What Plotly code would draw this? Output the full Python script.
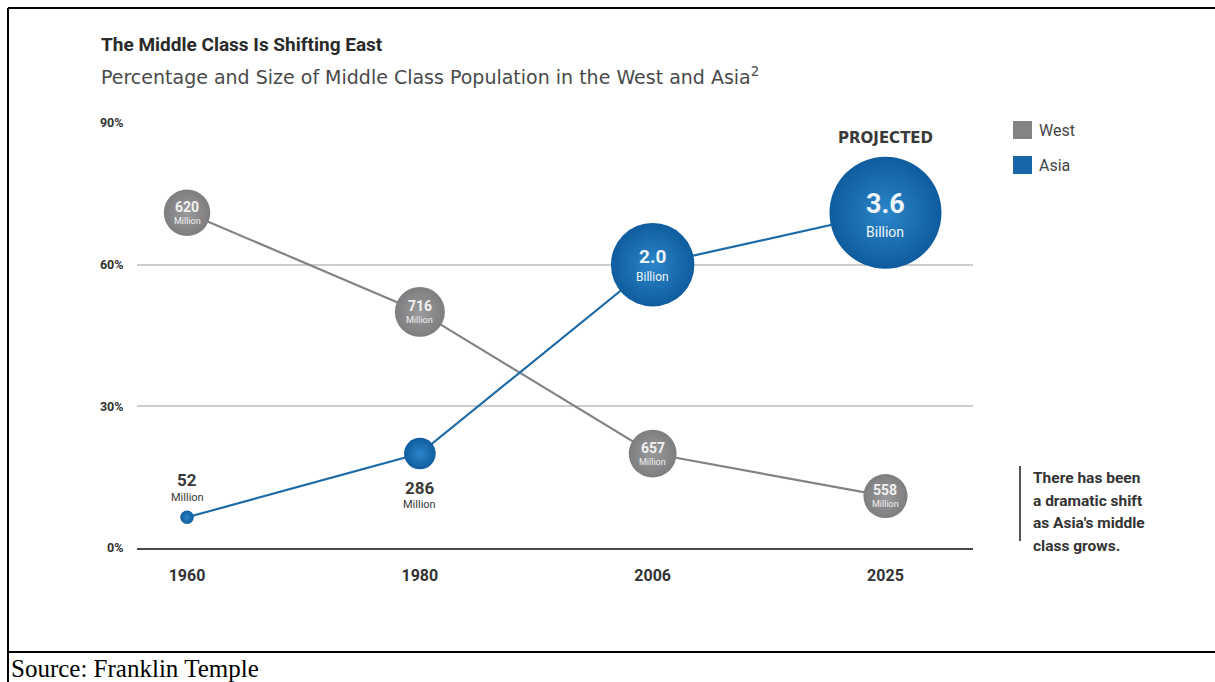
import plotly.graph_objects as go

# ---- data ----
years = ["1960", "1980", "2006", "2025"]
west_pct = [71, 50, 20, 11]          # share of population that is middle class (%)
asia_pct = [6.5, 20, 60, 71]
west_pop = [620, 716, 657, 558]      # middle-class population, millions
asia_pop = [52, 286, 2000, 3600]
y_ticks = [0, 30, 60, 90]
note_lines = ["There has been", "a dramatic shift", "as Asia's middle", "class grows."]

W, H = 1215, 682
L, R, T, B = 137, 973, 123, 548      # plot area in pixels

GRAY = "#7e7e80"
GRAY_HI = "#9a9a9c"
BLUE = "#0f5c9e"
BLUE_HI = "#2c86c8"
DARK = "#333333"
FONT = "Roboto, sans-serif"


def px(x):
    return (x - L) / (R - L)


def py(y):
    return (B - y) / (B - T)


def diam(pop):
    # bubble area proportional to population; 3.6 billion -> 112 px across
    return 112 * (pop / 3600) ** 0.5


def num_label(pop):
    return str(pop) if pop < 1000 else f"{pop / 1000:.1f}"


def unit_label(pop):
    return "Million" if pop < 1000 else "Billion"


def bubble_text(x, y, num, unit, num_size, unit_size, num_shift, unit_shift, color):
    fig.add_annotation(x=x, y=y, xref="x", yref="y", showarrow=False, yshift=num_shift,
                       text=f"<b>{num}</b>", font=dict(family=FONT, size=num_size, color=color))
    fig.add_annotation(x=x, y=y, xref="x", yref="y", showarrow=False, yshift=unit_shift,
                       text=unit, font=dict(family=FONT, size=unit_size, color=color))


xs = list(range(len(years)))

fig = go.Figure()

fig.add_trace(go.Scatter(
    x=xs, y=west_pct, mode="lines+markers", name="West",
    line=dict(color="#838385", width=2.2),
    marker=dict(size=[diam(p) for p in west_pop], sizemode="diameter", opacity=1,
                color=GRAY, gradient=dict(type="radial", color=GRAY_HI),
                line=dict(width=0)),
    cliponaxis=False, hoverinfo="skip", showlegend=False,
))
fig.add_trace(go.Scatter(
    x=xs, y=asia_pct, mode="lines+markers", name="Asia",
    line=dict(color="#1d6aa6", width=2.2),
    marker=dict(size=[diam(p) for p in asia_pop], sizemode="diameter", opacity=1,
                color=BLUE, gradient=dict(type="radial", color=BLUE_HI),
                line=dict(width=0)),
    cliponaxis=False, hoverinfo="skip", showlegend=False,
))

# labels inside the West bubbles
for x, y, p in zip(xs, west_pct, west_pop):
    bubble_text(x, y, num_label(p), unit_label(p), 14, 9, 6, -8, "#f0f0f0")

# Asia labels: small bubbles labelled outside, big ones inside
for x, y, p in zip(xs, asia_pct, asia_pop):
    if p < 1000:
        if x == 0:
            bubble_text(x, y, num_label(p), unit_label(p), 17, 11, 37, 20, "#3a3a3a")
        else:
            bubble_text(x, y, num_label(p), unit_label(p), 17, 11, -34, -51, "#3a3a3a")
    elif p >= 3000:
        bubble_text(x, y, num_label(p), unit_label(p), 27, 14, 9, -19, "#eef5fb")
    else:
        bubble_text(x, y, num_label(p), unit_label(p), 19, 12, 8, -12, "#eef5fb")

fig.add_annotation(x=3, y=90, xref="x", yref="y", yshift=-15, showarrow=False,
                   text="<b>PROJECTED</b>", font=dict(family="DejaVu Sans, sans-serif", size=15, color="#3a3a3a"))

# title and subtitle
fig.add_annotation(x=px(99), y=py(45), xref="paper", yref="paper", xanchor="left", yanchor="middle",
                   showarrow=False, text="<b>The Middle Class Is Shifting East</b>",
                   font=dict(family=FONT, size=19, color="#2a2a2a"))
fig.add_annotation(x=px(99), y=py(76), xref="paper", yref="paper", xanchor="left", yanchor="middle",
                   showarrow=False, text="Percentage and Size of Middle Class Population in the West and Asia<sup>2</sup>",
                   font=dict(family="DejaVu Sans, sans-serif", size=19, color="#4a4a4a"))

# legend
for name, col, yc in (("West", "#838385", 130), ("Asia", "#1666a8", 165)):
    fig.add_shape(type="rect", xref="paper", yref="paper",
                  x0=px(1013), x1=px(1032), y0=py(yc - 9), y1=py(yc + 9),
                  fillcolor=col, line=dict(width=0))
    fig.add_annotation(x=px(1037), y=py(yc), xref="paper", yref="paper", xanchor="left", yanchor="middle",
                       showarrow=False, text=name, font=dict(family=FONT, size=16, color="#444444"))

# side note
fig.add_shape(type="line", xref="paper", yref="paper", x0=px(1020), x1=px(1020), y0=py(466), y1=py(541),
              line=dict(color="#555555", width=2))
for i, line in enumerate(note_lines):
    fig.add_annotation(x=px(1031), y=py(478 + 22.7 * i), xref="paper", yref="paper",
                       xanchor="left", yanchor="middle", showarrow=False,
                       text=f"<b>{line}</b>", font=dict(family=FONT, size=15.5, color="#333333"))

# page borders and source line
for x0, y0, x1, y1 in ((8, 8, 8, 682), (8, 8, 1215, 8), (8, 652, 1215, 652)):
    fig.add_shape(type="line", xref="paper", yref="paper", x0=px(x0), y0=py(y0), x1=px(x1), y1=py(y1),
                  line=dict(color="black", width=2))
fig.add_annotation(x=px(9), y=py(668), xref="paper", yref="paper", xanchor="left", yanchor="middle",
                   showarrow=False, text="Source: Franklin Temple",
                   font=dict(family="Liberation Serif, serif", size=25, color="black"))

fig.update_layout(
    width=W, height=H,
    margin=dict(l=L, r=W - R, t=T, b=H - B, pad=0),
    paper_bgcolor="white", plot_bgcolor="white",
    showlegend=False,
    xaxis=dict(range=[-0.215, 3.376], tickvals=xs, ticktext=[f"<b>{y}</b>" for y in years],
               showgrid=False, zeroline=False, showline=True, linecolor="#4a4a4a", linewidth=2,
               ticks="outside", ticklen=12, tickcolor="rgba(0,0,0,0)",
               tickfont=dict(family=FONT, size=16, color=DARK), fixedrange=True),
    yaxis=dict(range=[0, 90], tickvals=y_ticks, ticktext=[f"<b>{v}%</b>" for v in y_ticks],
               showgrid=True, gridcolor="#cdcdcd", gridwidth=1.5, zeroline=False,
               ticks="outside", ticklen=10, tickcolor="rgba(0,0,0,0)",
               tickfont=dict(family=FONT, size=12.5, color=DARK), fixedrange=True),
)

fig.write_html("out.html")
